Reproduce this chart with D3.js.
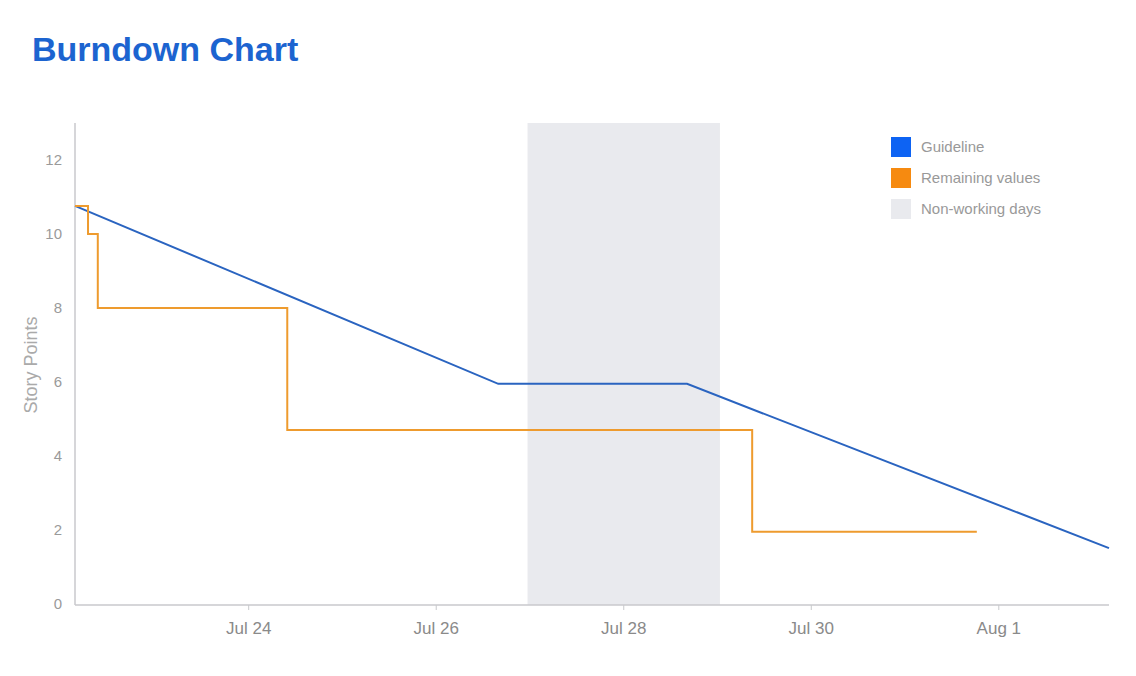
<!DOCTYPE html>
<html lang="en">
<head>
<meta charset="UTF-8" />
<title>Burndown Chart</title>
<script src="https://d3js.org/d3.v7.min.js"></script>
<style>
  body { margin: 0; background: #fff; font-family: "Liberation Sans", Arial, sans-serif; }
  .title { font-size: 34px; font-weight: bold; fill: #1c64d0; }
  .tick-y { font-size: 15px; fill: #9a9a9a; }
  .tick-x { font-size: 17px; fill: #8a8a8a; }
  .axis-label { font-size: 18px; fill: #aaa; }
  .legend text { font-size: 15px; fill: #999; }
</style>
</head>
<body>
<div id="chart"></div>
<script>
// y axis ticks
const yTicks = [0, 2, 4, 6, 8, 10, 12];
// x axis ticks
const xTicks = ["2019-07-24", "2019-07-26", "2019-07-28", "2019-07-30", "2019-08-01"];
const xTickLabels = ["Jul 24", "Jul 26", "Jul 28", "Jul 30", "Aug 1"];

// ideal burndown
const guideDates = ["2019-07-22T03:40", "2019-07-26T16:00", "2019-07-28T16:20", "2019-08-02T04:20"];
const guideValues = [10.76, 5.95, 5.95, 1.51];

// actual remaining story points (step line)
const remainDates = ["2019-07-22T03:40", "2019-07-22T07:00", "2019-07-22T09:30", "2019-07-24T10:00", "2019-07-29T09:00", "2019-07-31T18:30"];
const remainValues = [10.76, 10, 8, 4.7, 1.95, 1.95];

// weekend
const nonWorking = ["2019-07-26T23:30", "2019-07-29T00:45"];

const legendItems = ["Guideline", "Remaining values", "Non-working days"];
const legendColors = ["#0d63f3", "#f68a10", "#e9eaee"];

const W = 1136, H = 676;
const margin = { top: 123, right: 27, bottom: 71, left: 75 };
const parse = d3.isoParse;

const svg = d3.select("#chart").append("svg")
  .attr("width", W).attr("height", H);

svg.append("text").attr("class", "title")
  .attr("x", 32).attr("y", 61)
  .text("Burndown Chart");

const x = d3.scaleTime()
  .domain([parse(guideDates[0]), parse(guideDates[guideDates.length - 1])])
  .range([margin.left, W - margin.right]);

const y = d3.scaleLinear()
  .domain([0, 13])
  .range([604, margin.top]);

// non-working days band
svg.append("rect")
  .attr("x", x(parse(nonWorking[0])))
  .attr("y", margin.top)
  .attr("width", x(parse(nonWorking[1])) - x(parse(nonWorking[0])))
  .attr("height", 605 - margin.top)
  .attr("fill", "#e9eaee");

// y axis
const yAxis = svg.append("g")
  .attr("transform", `translate(${margin.left},0)`)
  .call(d3.axisLeft(y).tickValues(yTicks).tickSize(0).tickPadding(13));
yAxis.select(".domain").attr("stroke", "#c8c9cc").attr("stroke-width", 1.5)
  .attr("d", `M0,${margin.top}V605`);
yAxis.selectAll("text").attr("class", "tick-y").attr("font-family", null).attr("font-size", null).attr("fill", null);

// x axis
const xAxis = svg.append("g")
  .attr("transform", `translate(0,605)`)
  .call(d3.axisBottom(x)
    .tickValues(xTicks.map(parse))
    .tickFormat((d, i) => xTickLabels[i])
    .tickSize(5).tickPadding(12));
xAxis.select(".domain").attr("stroke", "#c8c9cc").attr("stroke-width", 1.5)
  .attr("d", `M${margin.left},0H${W - margin.right}`);
xAxis.selectAll(".tick line").attr("stroke", "#c8c9cc");
xAxis.selectAll("text").attr("class", "tick-x").attr("font-family", null).attr("font-size", null).attr("fill", null);

// y axis label
svg.append("text").attr("class", "axis-label")
  .attr("transform", "rotate(-90)")
  .attr("x", -365).attr("y", 37)
  .style("text-anchor", "middle")
  .text("Story Points");

// guideline
const guideLine = d3.line()
  .x((d, i) => x(parse(guideDates[i])))
  .y(d => y(d));
svg.append("path")
  .datum(guideValues)
  .attr("d", guideLine)
  .attr("fill", "none")
  .attr("stroke", "#2a64c0")
  .attr("stroke-width", 2);

// remaining values
const remainLine = d3.line()
  .x((d, i) => x(parse(remainDates[i])))
  .y(d => y(d))
  .curve(d3.curveStepAfter);
svg.append("path")
  .datum(remainValues)
  .attr("d", remainLine)
  .attr("fill", "none")
  .attr("stroke", "#ee9b2e")
  .attr("stroke-width", 2);

// legend
const legend = svg.append("g").attr("class", "legend")
  .attr("transform", "translate(891,137)");
legendItems.forEach((label, i) => {
  legend.append("rect")
    .attr("x", 0).attr("y", i * 31)
    .attr("width", 20).attr("height", 20)
    .attr("fill", legendColors[i]);
  legend.append("text")
    .attr("x", 30).attr("y", i * 31 + 10)
    .attr("dy", "0.35em")
    .text(label);
});
</script>
</body>
</html>
